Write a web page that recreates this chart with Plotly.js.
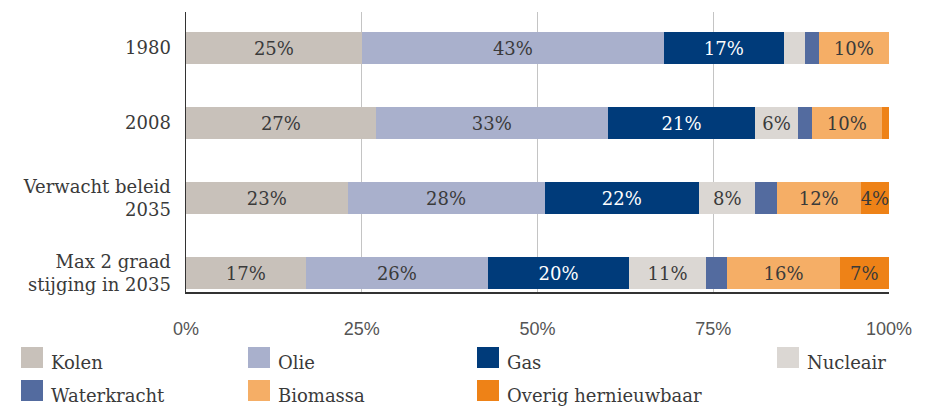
<!DOCTYPE html>
<html><head><meta charset="utf-8">
<script src="https://cdn.plot.ly/plotly-3.0.1.min.js"></script>
<style>html,body{margin:0;padding:0;background:#fff}#chart{width:925px;height:406px}</style>
</head><body><div id="chart"></div>
<script>
const categories = ["1980", "2008", "Verwacht beleid<br>2035", "Max 2 graad<br>stijging in 2035"];
const seriesNames = ["Kolen", "Olie", "Gas", "Nucleair", "Waterkracht", "Biomassa", "Overig hernieuwbaar"];
const kolen = [25, 27, 23, 17];
const olie = [43, 33, 28, 26];
const gas = [17, 21, 22, 20];
const nucleair = [3, 6, 8, 11];
const waterkracht = [2, 2, 3, 3];
const biomassa = [10, 10, 12, 16];
const overig = [0, 1, 4, 7];
const colors = ["#c8c1ba", "#a9b0cc", "#003b7a", "#dbd7d3", "#536b9f", "#f5ae66", "#ee8217"];
const textColors = ["#3a3a3a", "#3a3a3a", "#ffffff", "#3a3a3a", "#3a3a3a", "#3a3a3a", "#3a3a3a"];
const tickVals = [0, 25, 50, 75, 100];
const tickText = ["0%", "25%", "50%", "75%", "100%"];

const FONT = "DejaVu Serif, serif";
const SANS = "Liberation Sans, Arial, sans-serif";
const allSeries = [kolen, olie, gas, nucleair, waterkracht, biomassa, overig];

const traces = allSeries.map((vals, i) => ({
  type: "bar",
  orientation: "h",
  name: seriesNames[i],
  y: categories,
  x: vals,
  marker: {color: colors[i], line: {width: 0}},
  width: 0.43,
  text: vals.map(v => v >= 4 ? v + "%" : ""),
  textposition: "inside",
  insidetextanchor: "middle",
  textangle: 0,
  constraintext: "none",
  textfont: {family: FONT, size: 18, color: textColors[i]},
  hoverinfo: "skip",
  showlegend: false
}));

// legend drawn with shapes + annotations
const shapes = [];
const annotations = [];
const colX = [21, 248, 477, 777];
const rowY = [347, 380];
const W = 925, H = 406;
const px = x => (x - 186) / (889 - 186);
const py = y => (292 - y) / (292 - 12);
seriesNames.forEach((n, i) => {
  const c = i % 4, r = Math.floor(i / 4);
  const x0 = colX[c], y0 = rowY[r];
  shapes.push({type: "rect", xref: "paper", yref: "paper",
    x0: px(x0), x1: px(x0 + 22), y0: py(y0), y1: py(y0 + 21),
    fillcolor: colors[i], line: {width: 0}});
  annotations.push({xref: "paper", yref: "paper", showarrow: false,
    x: px(x0 + 28), y: py(y0 + 15),
    xanchor: "left", yanchor: "middle", text: n,
    font: {family: FONT, size: 18, color: "#3a3a3a"}});
});

const layout = {
  width: W, height: H,
  margin: {l: 186, r: 36, t: 12, b: 114},
  paper_bgcolor: "#ffffff", plot_bgcolor: "#ffffff",
  barmode: "stack",
  showlegend: false,
  xaxis: {range: [0, 100], tickvals: tickVals, ticktext: tickText, showgrid: true,
    gridcolor: "#c4c4c4", gridwidth: 1, zeroline: false,
    showline: true, linecolor: "#333333", linewidth: 1.5, ticks: "", ticklabelstandoff: 20,
    tickfont: {family: SANS, size: 18, color: "#555555"}, fixedrange: true},
  yaxis: {type: "category", range: [3.253, -0.48], showgrid: false, zeroline: false,
    showline: true, linecolor: "#333333", linewidth: 1.5, ticks: "", ticklabelstandoff: 10,
    tickfont: {family: FONT, size: 18, color: "#3a3a3a"}, fixedrange: true},
  shapes: shapes,
  annotations: annotations
};
Plotly.newPlot("chart", traces, layout, {displayModeBar: false, staticPlot: true});
</script></body></html>
